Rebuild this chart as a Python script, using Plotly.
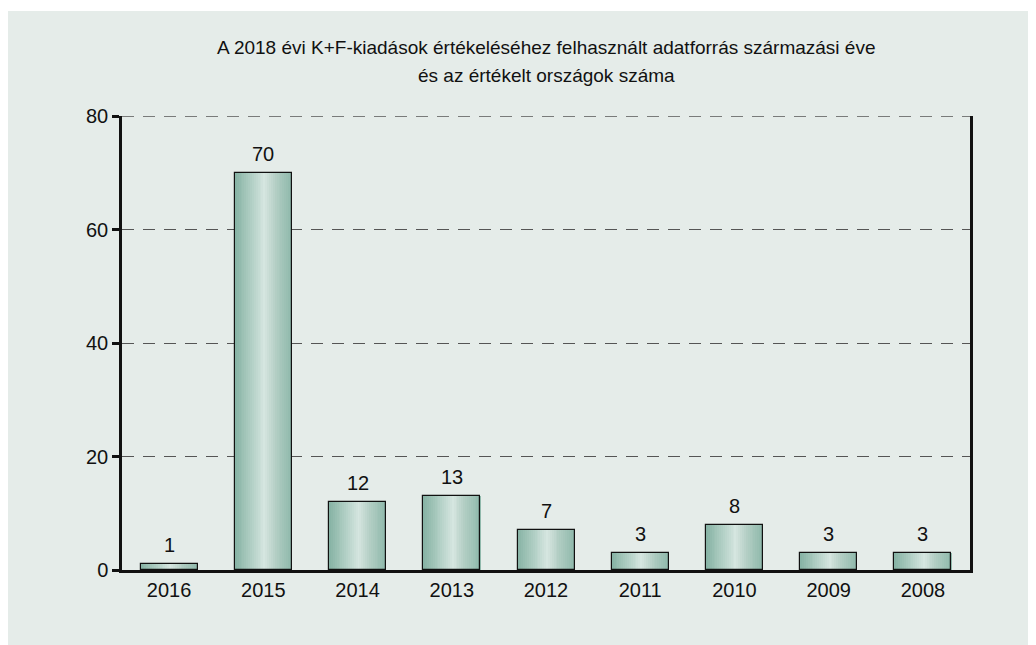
import plotly.graph_objects as go

# ---- data ----
years = ["2016", "2015", "2014", "2013", "2012", "2011", "2010", "2009", "2008"]
countries = [1, 70, 12, 13, 7, 3, 8, 3, 3]
y_ticks = [0, 20, 40, 60, 80]
title_line1 = "A 2018 évi K+F-kiadások értékeléséhez felhasznált adatforrás származási éve"
title_line2 = "és az értékelt országok száma"

# ---- style ----
BG = "#e5ece9"
BAR_W = 0.605
N_SLICES = 30
FONT = "Liberation Sans, Arial, sans-serif"
DASH = "12px,9px"
GRID_COLOR = "#555"
# gradient profile across bar width: (position 0..1, rgb)
STOPS = [
    (0.00, (134, 178, 164)),
    (0.22, (166, 200, 188)),
    (0.52, (214, 230, 224)),
    (0.72, (178, 206, 196)),
    (1.00, (142, 184, 170)),
]


def grad(t):
    for (p0, c0), (p1, c1) in zip(STOPS[:-1], STOPS[1:]):
        if p0 <= t <= p1:
            f = (t - p0) / (p1 - p0)
            return "rgb(%d,%d,%d)" % tuple(round(a + (b - a) * f) for a, b in zip(c0, c1))
    return "rgb(%d,%d,%d)" % STOPS[-1][1]


fig = go.Figure()
sw = BAR_W / N_SLICES
for i in range(N_SLICES):
    t = (i + 0.5) / N_SLICES
    fig.add_trace(go.Bar(
        x=years, y=countries,
        width=sw * 1.15, offset=-BAR_W / 2 + i * sw,
        marker=dict(color=grad(t), line=dict(width=0)),
        hoverinfo="skip", showlegend=False,
    ))

# outline
fig.add_trace(go.Bar(
    x=years, y=countries, width=BAR_W,
    marker=dict(color="rgba(0,0,0,0)", line=dict(color="#111", width=1.2)),
    showlegend=False,
))

# value labels (category axis positions are indices)
for idx, v in enumerate(countries):
    fig.add_annotation(x=idx, y=v, xref="x", yref="y", text=str(v), showarrow=False,
                       xanchor="center", yanchor="bottom", yshift=6,
                       font=dict(family=FONT, size=20, color="#111"))

# page offset: the html body has an 8px margin
OFF = 8
W, H = 1036 - OFF, 645 - OFF
L, R, T, B = 122 - OFF, 66, 116 - OFF, 75
pw, ph = W - L - R, H - T - B


def px_x(px):
    return (px - OFF - L) / pw


def px_y(py):
    return (H + OFF - B - py) / ph


# background panel first
fig.add_shape(type="rect", xref="paper", yref="paper",
              x0=px_x(6), x1=px_x(1040), y0=px_y(650), y1=px_y(11),
              fillcolor=BG, line=dict(width=0), layer="below")

# top gridline (plotly hides the one on the plot edge)
fig.add_shape(type="line", xref="paper", yref="y", x0=0, x1=1,
              y0=y_ticks[-1], y1=y_ticks[-1],
              line=dict(color=GRID_COLOR, width=1.3, dash=DASH), layer="below")

for txt, py in [(title_line1, 47), (title_line2, 75)]:
    fig.add_annotation(text=txt, xref="paper", yref="paper", x=0.5, y=px_y(py),
                       showarrow=False, xanchor="center", yanchor="middle",
                       font=dict(family=FONT, size=19, color="#111"))

fig.update_layout(
    width=W, height=H,
    margin=dict(l=L, r=R, t=T, b=B),
    paper_bgcolor="white", plot_bgcolor="rgba(0,0,0,0)",
    barmode="overlay", bargap=0,
    font=dict(family=FONT, size=20, color="#111"),
    xaxis=dict(
        type="category",
        showline=True, linecolor="#111", linewidth=2.5, ticks="",
        showgrid=False, zeroline=False, tickfont=dict(size=20),
        range=[-0.5, len(years) - 0.5],
    ),
    yaxis=dict(
        range=[0, 80], tickvals=y_ticks, showline=True, linecolor="#111", linewidth=2.5,
        mirror=True, ticks="outside", ticklen=7, tickwidth=2.5, tickcolor="#111",
        showgrid=True, gridcolor=GRID_COLOR, griddash=DASH, gridwidth=1.3,
        zeroline=False, tickfont=dict(size=20),
    ),
)

fig.write_html("out.html")
